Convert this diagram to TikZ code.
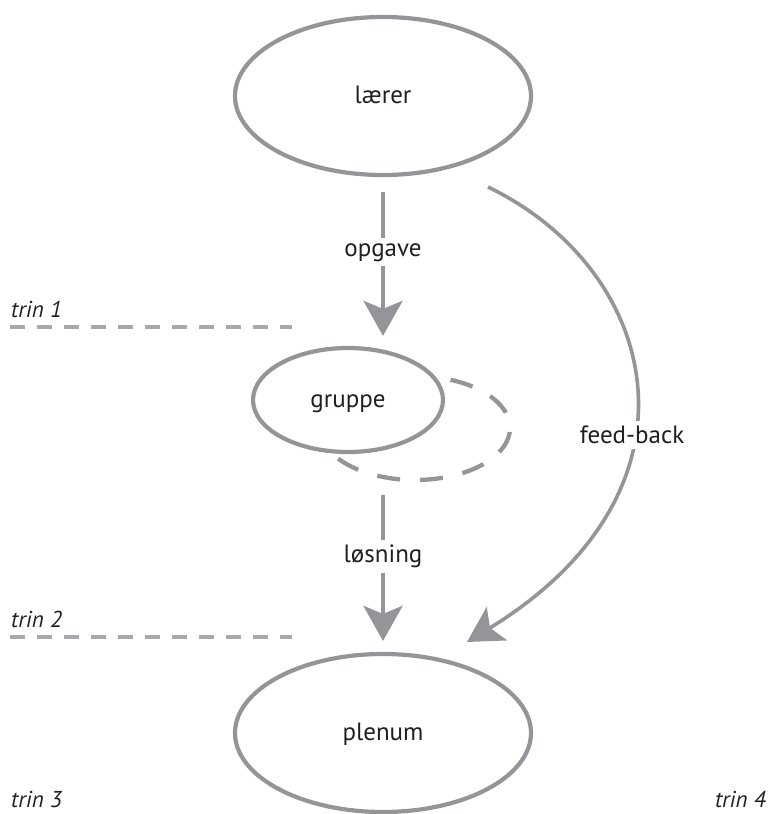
\documentclass[tikz,border=0pt]{standalone}
\usepackage{fontspec}
\setmainfont{PT Sans}
\usetikzlibrary{shapes.geometric,arrows.meta,calc}
\definecolor{linegray}{RGB}{147,149,152}
\definecolor{guidegray}{RGB}{167,169,172}
\definecolor{ink}{RGB}{35,31,32}

\begin{document}
\begin{tikzpicture}[x=1pt,y=1pt,
  bubble/.style={ellipse, draw=linegray, line width=4.2pt, inner sep=0pt,
    text=ink, font=\fontsize{25}{30}\selectfont, text height=18pt, text depth=4pt},
  flow/.style={draw=linegray, line width=4.5pt,
    -{Stealth[length=35pt,width=39pt,inset=8pt]}},
  tag/.style={fill=white, text=ink, font=\fontsize{25}{30}\selectfont, inner sep=5pt},
  guide/.style={draw=guidegray, line width=3.2pt, dash pattern=on 15pt off 12pt},
  loopdash/.style={draw=linegray, line width=4.3pt, dash pattern=on 23pt off 20pt},
  stagetxt/.style={text=ink, font=\fontsize{23}{28}\selectfont\itshape, inner sep=0pt}
]
\useasboundingbox (0,0) rectangle (769,-814);

% the three groups
\node[bubble, minimum width=296pt, minimum height=158pt] (laerer) at (383,-96) {lærer};
\node[bubble, minimum width=190pt, minimum height=104pt] (gruppe) at (348,-400) {gruppe};
\node[bubble, minimum width=296pt, minimum height=158pt] (plenum) at (383,-733) {plenum};

% work loop inside the group
\draw[loopdash] ($(gruppe.center)+(67,-28)$) ++(68:95 and 52)
  arc[start angle=68, end angle=-150, x radius=95, y radius=52];

% task and solution
\draw[flow, shorten <=15pt, shorten >=10pt] (laerer.south) -- (laerer.south |- gruppe.north)
  node[tag, pos=0.468, anchor=base] (opgave) {opgave};
\draw[flow, shorten <=41pt, shorten >=11pt] (plenum.north |- gruppe.south) -- (plenum.north)
  node[tag, pos=0.55, anchor=base] (loesning) {løsning};

% feed-back from the teacher
\draw[flow, line width=3.6pt] ($(laerer.center)+(105,-91)$)
  .. controls (660,-270) and (715,-490) .. ($(plenum.center)+(84,91)$)
  node[tag, pos=0.59] (feedback) {feed-back};

% stage markers
\coordinate (g1a) at (10,-327); \coordinate (g1b) at (292,-327);
\coordinate (g2a) at (10,-637); \coordinate (g2b) at (292,-637);
\draw[guide] (g1a) -- (g1b);
\draw[guide] (g2a) -- (g2b);
\node[stagetxt, anchor=base west] (trin1) at (11,-317) {trin 1};
\node[stagetxt, anchor=base west] (trin2) at (11,-627) {trin 2};
\node[stagetxt, anchor=base west] (trin3) at (11,-807) {trin 3};
\node[stagetxt, anchor=base east] (trin4) at (766,-807) {trin 4};
\end{tikzpicture}
\end{document}
